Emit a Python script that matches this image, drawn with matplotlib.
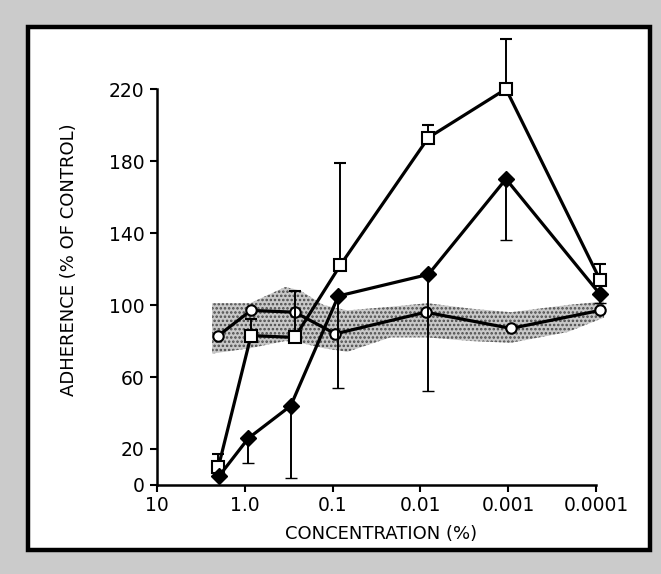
import matplotlib
matplotlib.use('Agg')
import matplotlib.pyplot as plt
from matplotlib.patches import Rectangle
from matplotlib.ticker import NullLocator, FixedLocator, FixedFormatter

# ---- data ----
circle_conc = [2.0, 0.85, 0.27, 0.093, 0.0087, 0.00093, 0.00009]
circle_vals = [83, 97, 96, 84, 96, 87, 97]

square_conc = [2.0, 0.85, 0.27, 0.082, 0.0081, 0.00106, 0.00009]
square_vals = [10, 83, 82, 122, 193, 220, 114]
square_err_up = [7, 9, 26, 57, 7, 28, 9]

diamond_conc = [1.96, 0.91, 0.30, 0.086, 0.0081, 0.00106, 0.00009]
diamond_vals = [5, 26, 44, 105, 117, 170, 106]
diamond_err_down = [0, 14, 40, 51, 65, 34, 5]

band_conc = [2.36, 0.87, 0.346, 0.233, 0.127, 0.068, 0.022, 0.0083, 0.0027,
             0.00093, 0.00021, 0.000081]
band_upper = [101, 101, 110, 108, 100, 97, 99, 101, 98, 96, 100, 102]
band_lower = [73, 76, 80, 79, 76, 74, 82, 82, 80, 79, 85, 93]

x_ticks = [10, 1, 0.1, 0.01, 0.001, 0.0001]
x_tick_labels = ['10', '1.0', '0.1', '0.01', '0.001', '0.0001']
y_ticks = [0, 20, 60, 100, 140, 180, 220]
y_tick_labels = ['0', '20', '60', '100', '140', '180', '220']

W, H = 661, 574
fig = plt.figure(figsize=(W / 100, H / 100), dpi=100, facecolor='#cbcbcb')

# white panel with black frame
fig.patches.append(Rectangle((28 / W, 1 - 550 / H), (650 - 28) / W, (550 - 27) / H,
                             transform=fig.transFigure, facecolor='white',
                             edgecolor='black', linewidth=3.2, zorder=-10))

ax = fig.add_axes([157 / W, 1 - 485 / H, (596 - 157) / W, (485 - 89) / H])
ax.set_zorder(5)
ax.set_facecolor('none')
ax.set_xscale('log')
ax.set_xlim(10, 0.0001)
ax.set_ylim(0, 220)

plt.rcParams['hatch.linewidth'] = 1.2

# stippled band
band = ax.fill_between(band_conc, band_lower, band_upper, facecolor='#c8c8c8',
                       edgecolor='#4a4a4a', hatch='....', linewidth=0, zorder=1)
band.set_clip_on(False)


def unclip(container):
    for item in container.lines:
        if item is None:
            continue
        if isinstance(item, (list, tuple)):
            for a in item:
                a.set_clip_on(False)
        else:
            item.set_clip_on(False)


lw = 2.3
# circles
ax.plot(circle_conc, circle_vals, '-o', color='black', lw=lw, ms=7.5,
        mfc='white', mec='black', mew=1.5, zorder=4, clip_on=False)
# squares with upward error bars
sq = ax.errorbar(square_conc, square_vals, yerr=[[0] * len(square_vals), square_err_up],
                 fmt='-s', color='black', lw=lw, ms=8.5, mfc='white', mec='black', mew=1.5,
                 elinewidth=1.4, capsize=4.5, capthick=1.4, zorder=5)
unclip(sq)
# diamonds with downward error bars
dm = ax.errorbar(diamond_conc, diamond_vals, yerr=[diamond_err_down, [0] * len(diamond_vals)],
                 fmt='-D', color='black', lw=lw, ms=8, mfc='black', mec='black', mew=1.0,
                 elinewidth=1.4, capsize=4.5, capthick=1.4, zorder=6)
unclip(dm)

for s in ['top', 'right']:
    ax.spines[s].set_visible(False)
for s in ['left', 'bottom']:
    ax.spines[s].set_linewidth(1.8)

ax.xaxis.set_major_locator(FixedLocator(x_ticks))
ax.xaxis.set_major_formatter(FixedFormatter(x_tick_labels))
ax.xaxis.set_minor_locator(NullLocator())
ax.set_yticks(y_ticks)
ax.set_yticklabels(y_tick_labels)
ax.tick_params(axis='both', direction='out', length=5, width=1.5,
               labelsize=13.5, colors='black')
ax.tick_params(axis='x', pad=3)
ax.tick_params(axis='y', pad=4)

ax.set_xlabel('CONCENTRATION (%)', fontsize=13)
ax.set_ylabel('ADHERENCE (% OF CONTROL)', fontsize=13)
ax.xaxis.set_label_coords((381 - 157) / 439, -(525 - 485) / 396)
ax.yaxis.set_label_coords((78 - 157) / 439, (485 - 260) / 396)

fig.savefig('out.png', dpi=100, facecolor=fig.get_facecolor())
